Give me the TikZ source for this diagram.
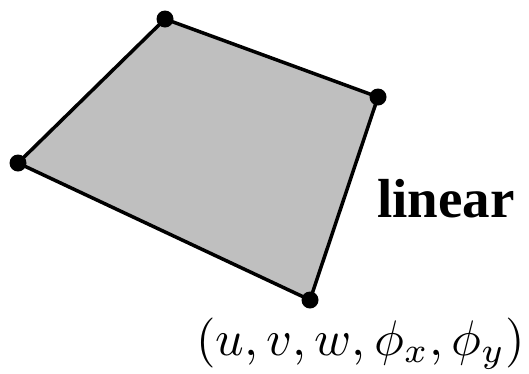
\documentclass[tikz,border=0pt]{standalone}
\usepackage{fontspec}
\setmainfont{Liberation Serif}
\begin{document}
\begin{tikzpicture}[x=1pt,y=-1pt,
  vtx/.style={circle,fill=black,inner sep=0pt,minimum size=17pt},
  edge/.style={line width=3.5pt,line join=round}]
\useasboundingbox (0,0) rectangle (529,373);
\coordinate (t) at (165,19);
\coordinate (r) at (378,97);
\coordinate (b) at (310,300);
\coordinate (l) at (18,163);
\filldraw[fill=black!25,edge] (t) -- (r) -- (b) -- (l) -- cycle;
\foreach \p in {t,r,b,l} \node[vtx] (n\p) at (\p) {};
\node[anchor=base west,inner sep=0pt,font=\fontsize{55}{61}\selectfont\bfseries] (lin) at (377,217) {linear};
\node[anchor=base east,inner sep=0pt] (dof) at (525,355) {\scalebox{5.0}{$(u,v,w,\phi_x,\phi_y)$}};
\end{tikzpicture}
\end{document}
